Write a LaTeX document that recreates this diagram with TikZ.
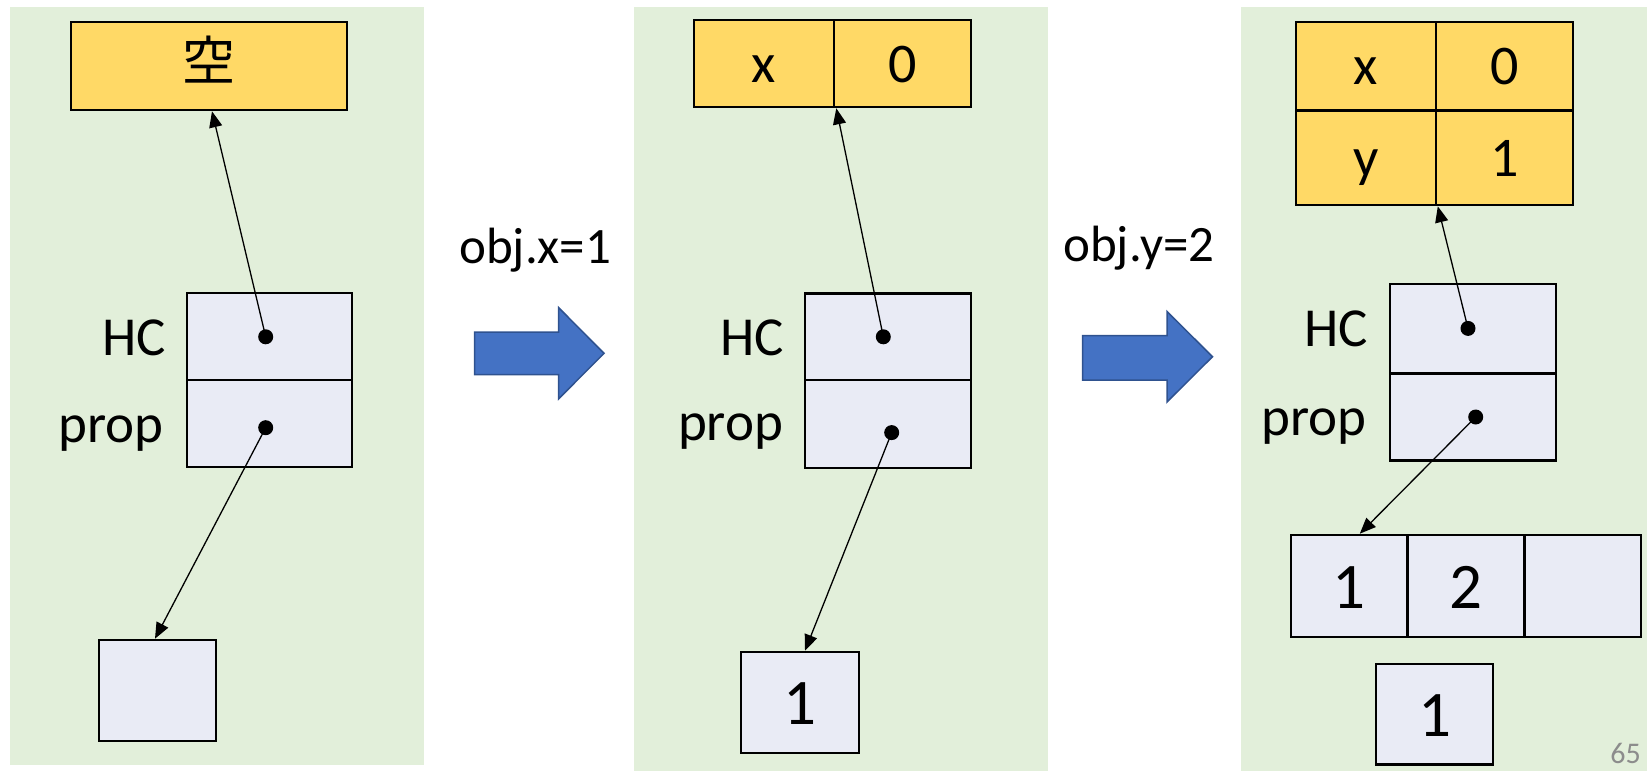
\documentclass[tikz,border=0pt]{standalone}
\usepackage{fontspec}
\setmainfont{Carlito}
\newfontfamily\cjk{Noto Sans CJK JP}
\usetikzlibrary{arrows.meta,calc}
\definecolor{bggreen}{HTML}{E2EFDA}
\definecolor{yelc}{HTML}{FFD966}
\definecolor{boxc}{HTML}{E9EBF5}
\definecolor{bluec}{HTML}{4472C4}
\definecolor{bluedk}{HTML}{2F528F}
\definecolor{pgnum}{HTML}{8C8C8C}
\tikzset{
  panel/.style={fill=bggreen,draw=none},
  cellbox/.style={draw=black,line width=2.6pt,fill=boxc,inner sep=0pt,
    text height=44pt,text depth=0pt,font=\fontsize{65}{70}\selectfont},
  yelbox/.style={draw=black,line width=2.6pt,fill=yelc,inner sep=0pt,
    text height=37pt,text depth=0pt,font=\fontsize{56}{60}\selectfont},
  fieldlbl/.style={anchor=base east,inner sep=0pt,font=\fontsize{55}{60}\selectfont},
  oplbl/.style={anchor=base west,inner sep=0pt,font=\fontsize{51}{56}\selectfont},
  ptrdot/.style={circle,fill=black,draw=none,minimum size=15pt,inner sep=0pt},
  ptr/.style={-{Triangle[length=16pt,width=13pt]},line width=1.3pt},
  blockarrow/.style={fill=bluec,draw=bluedk,line width=1.5pt,line join=miter},
}
\begin{document}
\begin{tikzpicture}[x=1pt,y=-1pt]
\useasboundingbox (0,0) rectangle (1647,771);
% panels
\fill[panel] (10,7.4) rectangle (424,764.5);
\fill[panel] (634,7.4) rectangle (1048,771);
\fill[panel] (1241,7.4) rectangle (1647,771);

% ---------- panel 1 ----------
\node[yelbox,minimum width=276pt,minimum height=88pt,text height=29pt,font=\cjk\fontsize{53}{60}\selectfont] (e1) at (209,66) {空};
\node[cellbox,minimum width=165pt,minimum height=87pt] (hc1) at (269.5,336.5) {};
\node[cellbox,minimum width=165pt,minimum height=87pt] (pr1) at (269.5,423.5) {};
\node[fieldlbl] (hcl1) at (166,355) {HC};
\node[fieldlbl] (prl1) at (164,442) {prop};
\node[cellbox,minimum width=117pt,minimum height=101pt] (v1) at (157.5,690.5) {};
\node[ptrdot] (dh1) at (265.7,336.8) {};
\node[ptrdot] (dp1) at (265.7,427.7) {};
\draw[ptr] (dh1.center) -- ($(e1.south)+(3,0)$);
\draw[ptr] (dp1.center) -- ($(v1.north)+(-2.5,0)$);

% ---------- arrow 1 ----------
\node[oplbl] (op1) at (459,263) {obj.x=1};
\draw[blockarrow] (474.5,332) -- (558.5,332) -- (558.5,307.5) -- (604,353.3)
  -- (558.5,399) -- (558.5,374.5) -- (474.5,374.5) -- cycle;

% ---------- panel 2 ----------
\node[yelbox,minimum width=140pt,minimum height=87pt] (kx2) at (764,63.5) {x};
\node[yelbox,minimum width=137pt,minimum height=87pt] (vx2) at (902.5,63.5) {0};
\node[cellbox,minimum width=166pt,minimum height=86.5pt] (hc2) at (888,336.75) {};
\node[cellbox,minimum width=166pt,minimum height=88pt] (pr2) at (888,424) {};
\node[fieldlbl] (hcl2) at (784.3,355) {HC};
\node[fieldlbl] (prl2) at (783.3,440) {prop};
\node[cellbox,minimum width=118pt,minimum height=101pt] (v2) at (800,702.5) {1};
\node[ptrdot] (dh2) at (883.3,336.8) {};
\node[ptrdot] (dp2) at (891.7,432.6) {};
\draw[ptr] (dh2.center) -- ($(kx2.south east)+(1,0)$);
\draw[ptr] (dp2.center) -- ($(v2.north)+(5,0)$);

% ---------- arrow 2 ----------
\node[oplbl] (op2) at (1063,261) {obj.y=2};
\draw[blockarrow] (1082.5,335.5) -- (1167,335.5) -- (1167,311.5) -- (1212.5,356.7)
  -- (1167,402) -- (1167,380) -- (1082.5,380) -- cycle;

% ---------- panel 3 ----------
\node[yelbox,minimum width=140pt,minimum height=88.6pt] (kx3) at (1366,66.3) {x};
\node[yelbox,minimum width=137pt,minimum height=88.6pt] (vx3) at (1504.5,66.3) {0};
\node[yelbox,minimum width=140pt,minimum height=94.4pt] (ky3) at (1366,157.8) {y};
\node[yelbox,minimum width=137pt,minimum height=94.4pt] (vy3) at (1504.5,157.8) {1};
\node[cellbox,minimum width=166pt,minimum height=89.6pt] (hc3) at (1473,328.8) {};
\node[cellbox,minimum width=166pt,minimum height=87pt] (pr3) at (1473,417.1) {};
\node[fieldlbl] (hcl3) at (1368,346.6) {HC};
\node[fieldlbl] (prl3) at (1367,435) {prop};
\node[cellbox,minimum width=116.7pt,minimum height=102pt] (a1) at (1349.3,586) {1};
\node[cellbox,minimum width=116.7pt,minimum height=102pt] (a2) at (1466,586) {2};
\node[cellbox,minimum width=116.7pt,minimum height=102pt] (a3) at (1582.7,586) {};
\node[cellbox,minimum width=117pt,minimum height=100.5pt] (v3) at (1434.5,714.2) {1};
\node[ptrdot] (dh3) at (1468,328.4) {};
\node[ptrdot] (dp3) at (1475.7,417) {};
\draw[ptr] (dh3.center) -- ($(ky3.south east)+(0.5,0)$);
\draw[ptr] (dp3.center) -- ($(a1.north)+(10.5,0)$);

% page number
\node[anchor=base east,inner sep=0pt,text=pgnum,font=\fontsize{30}{34}\selectfont] (pg) at (1641,763) {65};
\end{tikzpicture}
\end{document}
